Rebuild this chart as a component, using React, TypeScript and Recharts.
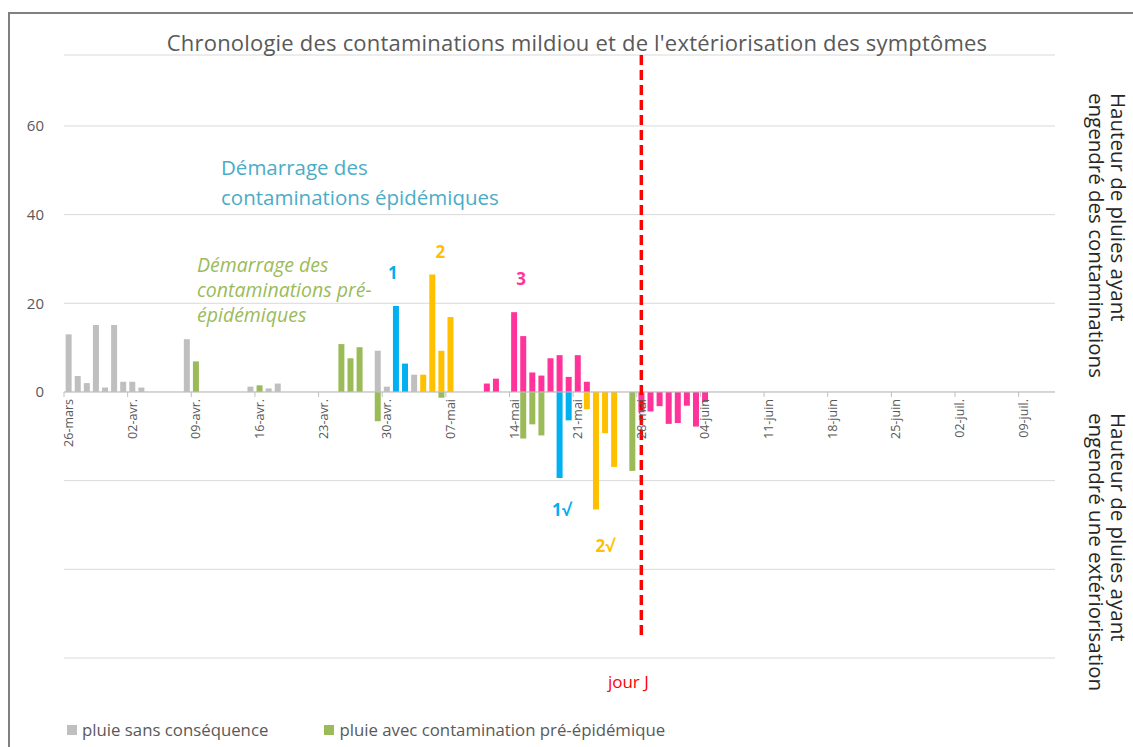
import React from 'react';
import { BarChart, Bar, XAxis, YAxis, CartesianGrid, ReferenceLine, ReferenceDot } from 'recharts';

// calendar of the season, one category per day
const MONTHS: [string, number, number][] = [
  ['mars', 26, 31],
  ['avr.', 1, 30],
  ['mai', 1, 31],
  ['juin', 1, 30],
  ['juil.', 1, 12],
];
const days: string[] = MONTHS.flatMap(([m, from, to]) =>
  Array.from({ length: to - from + 1 }, (_, i) => `${String(from + i).padStart(2, '0')}-${m}`)
);

const tickDays = [
  '26-mars', '02-avr.', '09-avr.', '16-avr.', '23-avr.', '30-avr.', '07-mai', '14-mai',
  '21-mai', '28-mai', '04-juin', '11-juin', '18-juin', '25-juin', '02-juil.', '09-juil.',
];
const yTicks = [-60, -40, -20, 0, 20, 40, 60];

// rain heights (mm), positive = contamination, negative = extériorisation
const rainNoEffect: [string, number][] = [
  ['26-mars', 13], ['27-mars', 3.6], ['28-mars', 2], ['29-mars', 15.1], ['30-mars', 1],
  ['31-mars', 15.1], ['01-avr.', 2.3], ['02-avr.', 2.3], ['03-avr.', 1], ['08-avr.', 11.9],
  ['15-avr.', 1.2], ['17-avr.', 0.8], ['18-avr.', 1.9], ['29-avr.', 9.3], ['30-avr.', 1.2],
  ['03-mai', 3.9],
];
const preEpiUp: [string, number][] = [
  ['09-avr.', 6.9], ['16-avr.', 1.5], ['25-avr.', 10.8], ['26-avr.', 7.6], ['27-avr.', 10.1],
];
const preEpiDown: [string, number][] = [
  ['29-avr.', -6.6], ['06-mai', -1.3], ['15-mai', -10.5], ['16-mai', -7.3], ['17-mai', -9.8],
  ['27-mai', -17.8],
];
const cont1Up: [string, number][] = [['01-mai', 19.4], ['02-mai', 6.4]];
const cont1Down: [string, number][] = [['19-mai', -19.4], ['20-mai', -6.4]];
const cont2Up: [string, number][] = [['04-mai', 3.9], ['05-mai', 26.5], ['06-mai', 9.3], ['07-mai', 16.9]];
const cont2Down: [string, number][] = [['22-mai', -3.9], ['23-mai', -26.5], ['24-mai', -9.3], ['25-mai', -16.9]];
const cont3Up: [string, number][] = [
  ['11-mai', 1.9], ['12-mai', 3.0], ['14-mai', 18.0], ['15-mai', 12.6], ['16-mai', 4.4],
  ['17-mai', 3.7], ['18-mai', 7.6], ['19-mai', 8.3], ['20-mai', 3.4], ['21-mai', 8.3],
  ['22-mai', 2.3],
];
const cont3Down: [string, number][] = [
  ['28-mai', -4.6], ['29-mai', -4.4], ['30-mai', -3.2], ['31-mai', -7.2], ['01-juin', -7.0],
  ['02-juin', -3.1], ['03-juin', -7.8], ['04-juin', -2.3],
];

const series = [
  { key: 'noEffect', values: rainNoEffect, color: '#bfbfbf' },
  { key: 'preEpiUp', values: preEpiUp, color: '#9bbb59' },
  { key: 'preEpiDown', values: preEpiDown, color: '#9bbb59' },
  { key: 'cont1Up', values: cont1Up, color: '#00b0f0' },
  { key: 'cont1Down', values: cont1Down, color: '#00b0f0' },
  { key: 'cont2Up', values: cont2Up, color: '#ffc000' },
  { key: 'cont2Down', values: cont2Down, color: '#ffc000' },
  { key: 'cont3Up', values: cont3Up, color: '#ff3399' },
  { key: 'cont3Down', values: cont3Down, color: '#ff3399' },
];

const data = days.map((day) => {
  const row: Record<string, string | number> = { day };
  series.forEach((s) => {
    const hit = s.values.find(([d]) => d === day);
    if (hit) row[s.key] = hit[1];
  });
  return row;
});

// text marks placed in data coordinates
const markers = [
  { day: '01-mai', value: 27, text: '1', color: '#00b0f0', dx: -3, bold: true },
  { day: '06-mai', value: 31.6, text: '2', color: '#ffc000', dx: -1, bold: true },
  { day: '15-mai', value: 25.5, text: '3', color: '#ff3399', dx: -2, bold: true },
  { day: '19-mai', value: -26.4, text: '1√', color: '#00b0f0', dx: 2, bold: true },
  { day: '24-mai', value: -34.7, text: '2√', color: '#ffc000', dx: 0, bold: true },
  { day: '28-mai', value: -65.2, text: 'jour J', color: '#ff0000', dx: -13, bold: false },
];

const legendItems = [
  { label: 'pluie sans conséquence', color: '#bfbfbf' },
  { label: 'pluie avec contamination pré-épidémique', color: '#9bbb59' },
];

const W = 1133;
const H = 747;
const MARGIN = { top: 55, right: 78, bottom: 89, left: 0 };
const Y_AXIS_W = 64;
const BAND = (W - MARGIN.right - MARGIN.left - Y_AXIS_W) / days.length;
const FONT = '"Open Sans", sans-serif';

function DayTick(props: any) {
  const { cx, cy, label } = props;
  const ty = cy + 7;
  return (
    <g>
      <line x1={cx - BAND / 2} x2={cx - BAND / 2} y1={cy} y2={cy + 5} stroke="#bfbfbf" />
      <text
        x={cx}
        y={ty}
        transform={`rotate(-90 ${cx} ${ty})`}
        textAnchor="end"
        dominantBaseline="central"
        fontSize={12.5}
        fill="#595959"
        fontFamily={FONT}
      >
        {label}
      </text>
    </g>
  );
}

export default function App() {
  return (
    <div style={{ position: 'absolute', left: 0, top: 0, width: W, height: H, overflow: 'hidden', background: '#fff', fontFamily: FONT }}>
      <div style={{ position: 'absolute', left: 8, top: 12, width: W, height: H, borderLeft: '2px solid #808080', borderTop: '2px solid #808080' }} />
      <BarChart
        width={W}
        height={H}
        data={data}
        margin={MARGIN}
        stackOffset="sign"
        barCategoryGap="18%"
        style={{ position: 'absolute', left: 0, top: 0 }}
      >
        <CartesianGrid vertical={false} stroke="#d9d9d9" />
        <XAxis dataKey="day" hide />
        <YAxis
          width={Y_AXIS_W}
          domain={[-60, 76]}
          ticks={yTicks}
          allowDataOverflow
          axisLine={false}
          tickLine={false}
          tickMargin={14}
          tickFormatter={(v: number) => (v >= 0 ? String(v) : '')}
          tick={{ fill: '#595959', fontSize: 15, fontFamily: FONT }}
        />
        {series.map((s) => (
          <Bar key={s.key} dataKey={s.key} stackId="rain" fill={s.color} isAnimationActive={false} />
        ))}
        <ReferenceLine y={0} stroke="#bfbfbf" />
        {tickDays.map((d) => (
          <ReferenceDot key={d} x={d} y={0} r={0} shape={(p: any) => <DayTick {...p} label={d} />} />
        ))}
        <ReferenceLine
          segment={[{ x: '28-mai', y: 76 }, { x: '28-mai', y: -55.5 }]}
          stroke="#ff0000"
          strokeWidth={3.5}
          strokeDasharray="10 5"
        />
        {markers.map((m) => (
          <ReferenceDot
            key={m.text}
            x={m.day}
            y={m.value}
            r={0}
            ifOverflow="visible"
            shape={(p: any) => (
              <text
                x={p.cx + m.dx}
                y={p.cy}
                textAnchor="middle"
                dominantBaseline="central"
                fill={m.color}
                fontSize={17}
                fontWeight={m.bold ? 700 : 400}
                fontFamily={FONT}
              >
                {m.text}
              </text>
            )}
          />
        ))}
      </BarChart>

      <div style={{ position: 'absolute', left: 0, top: 27, width: 1154, textAlign: 'center', fontSize: 22, letterSpacing: 0.2, color: '#595959', whiteSpace: 'nowrap' }}>
        Chronologie des contaminations mildiou et de l'extériorisation des symptômes
      </div>

      <div style={{ position: 'absolute', left: 221, top: 152, fontSize: 20.5, lineHeight: '30px', color: '#4bacc6', whiteSpace: 'nowrap' }}>
        Démarrage des<br />contaminations épidémiques
      </div>
      <div style={{ position: 'absolute', left: 197, top: 252, fontSize: 19.5, lineHeight: '25px', color: '#9bbb59', fontStyle: 'italic', whiteSpace: 'nowrap' }}>
        Démarrage des<br />contaminations pré-<br />épidémiques
      </div>

      <div style={{ position: 'absolute', left: 1086, top: 93, writingMode: 'vertical-rl', fontSize: 20.5, lineHeight: '22px', color: '#262626', whiteSpace: 'nowrap' }}>
        Hauteur de pluies ayant<br />engendré des contaminations
      </div>
      <div style={{ position: 'absolute', left: 1086, top: 413, writingMode: 'vertical-rl', fontSize: 20.5, lineHeight: '22px', color: '#262626', whiteSpace: 'nowrap' }}>
        Hauteur de pluies ayant<br />engendré une extériorisation
      </div>

      <div style={{ position: 'absolute', left: 67, top: 718, display: 'flex', gap: 56, fontSize: 16.8, color: '#595959', whiteSpace: 'nowrap' }}>
        {legendItems.map((it) => (
          <div key={it.label} style={{ display: 'flex', alignItems: 'center', gap: 5 }}>
            <span style={{ width: 10, height: 10, background: it.color, display: 'inline-block' }} />
            <span>{it.label}</span>
          </div>
        ))}
      </div>
    </div>
  );
}
